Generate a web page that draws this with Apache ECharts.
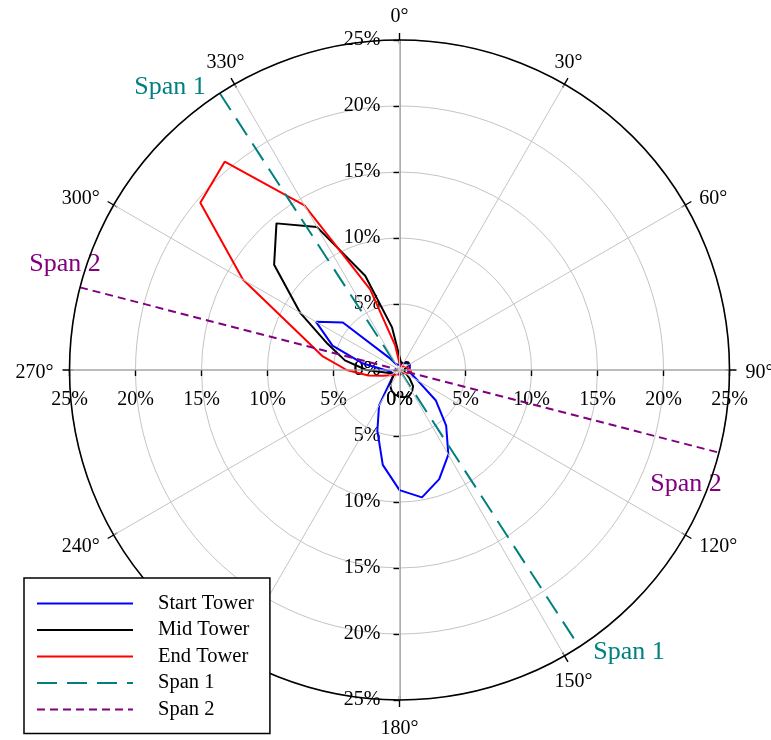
<!DOCTYPE html>
<html>
<head>
<meta charset="utf-8">
<script src="https://cdn.jsdelivr.net/npm/echarts@6/dist/echarts.min.js"></script>
<style>
  html, body { margin: 0; padding: 0; background: #ffffff; }
  #chart { width: 771px; height: 740px; }
</style>
</head>
<body>
<div id="chart"></div>
<script>
// Compass bearing of each rose bin (degrees, clockwise from north)
const directions = [0, 10, 20, 30, 40, 50, 60, 70, 80, 90, 100, 110, 120, 130, 140, 150, 160, 170,
                    180, 190, 200, 210, 220, 230, 240, 250, 260, 270, 280, 290, 300, 310, 320, 330, 340, 350];

// Share of time (%) per direction bin at each tower
const startTower = [0.4, 0.4, 0.5, 0.6, 0.7, 0.8, 0.9, 0.9, 0.8, 0.6, 0.7, 1.0, 1.6, 3.6, 5.5, 7.4, 8.8, 9.8,
                    9.1, 7.3, 4.9, 3.1, 1.0, 0.5, 0.4, 0.5, 0.7, 1.1, 2.8, 5.4, 7.3, 5.6, 1.2, 0.5, 0.4, 0.4];
const midTower   = [1.0, 0.6, 0.5, 0.6, 0.8, 0.9, 0.8, 0.6, 0.4, 0.3, 0.3, 0.4, 0.6, 1.0, 1.6, 1.9, 2.1, 2.1,
                    2.0, 1.9, 1.7, 1.4, 0.9, 0.6, 0.6, 0.7, 1.1, 2.5, 4.2, 5.8, 8.7, 12.4, 14.5, 12.5, 7.6, 3.3];
const endTower   = [0.5, 0.4, 0.3, 0.3, 0.3, 0.4, 0.5, 0.6, 0.7, 0.8, 0.9, 0.7, 0.5, 0.4, 0.3, 0.3, 0.3, 0.3,
                    0.3, 0.3, 0.3, 0.4, 0.5, 0.6, 0.8, 1.3, 2.4, 4.0, 5.9, 8.1, 13.7, 19.7, 20.6, 14.4, 6.5, 1.9];

// Line bearings of the two spans (both ends), drawn across the full radius
const span1Bearings = [327, 147];
const span2Bearings = [284.5, 104.5];

// Radial scale (%)
const radiusTicks = [0, 5, 10, 15, 20, 25];
// Angular scale (degrees)
const angleTicks = [0, 30, 60, 90, 120, 150, 180, 210, 240, 270, 300, 330, 360];

const FONT = 'Liberation Serif';
const CENTER = [399.5, 370];
const RADIUS = 330;
const rMin = radiusTicks[0];
const rMax = radiusTicks[radiusTicks.length - 1];
const rStep = radiusTicks[1] - radiusTicks[0];
const aStep = angleTicks[1] - angleTicks[0];

// Closed polygon in [radius, angle] order for the polar line series
function ring(values) {
  const pts = directions.map((d, i) => [values[i], d]);
  pts.push([values[0], directions[0]]);
  return pts;
}

// A straight span through the pole, with a caption at each end
function spanData(bearings, text, color, labels) {
  const base = { show: true, formatter: text, color: color, fontFamily: FONT, fontSize: 26 };
  return [
    { value: [rMax, bearings[0]], label: Object.assign({}, base, labels[0]) },
    { value: [0, 0] },
    { value: [rMax, bearings[1]], label: Object.assign({}, base, labels[1]) }
  ];
}

// Rich styles nudging diagonal angle labels so they sit centred on their spoke
const angleRich = {
  toL: { fontFamily: FONT, fontSize: 20, color: '#000', padding: [0, 0, 0, -18] },
  toR: { fontFamily: FONT, fontSize: 20, color: '#000', padding: [0, -18, 0, 0] },
  dn:  { fontFamily: FONT, fontSize: 20, color: '#000', padding: [0, 0, -9, 0] },
  up:  { fontFamily: FONT, fontSize: 20, color: '#000', padding: [-9, 0, 0, 0] }
};
function angleLabel(v) {
  const s = v + '°';
  if (v === 30 || v === 150) return '{toL|' + s + '}';
  if (v === 210 || v === 330) return '{toR|' + s + '}';
  if (v === 60 || v === 300) return '{dn|' + s + '}';
  if (v === 120 || v === 240) return '{up|' + s + '}';
  return s;
}

const gridGray = '#c4c4c4';
const axisGray = '#9a9a9a';

function radiusAxis(idx, tickLen, label) {
  return {
    polarIndex: idx,
    type: 'value',
    min: rMin, max: rMax, interval: rStep,
    axisLine: { show: true, lineStyle: { color: axisGray, width: 1.6 } },
    axisTick: { show: true, length: tickLen, lineStyle: { color: '#000', width: 1.4 } },
    axisLabel: Object.assign({
      show: true, formatter: '{value}%', color: '#000', fontFamily: FONT, fontSize: 20
    }, label),
    splitLine: { show: idx === 0, lineStyle: { color: gridGray, width: 1 } },
    z: 2
  };
}

const option = {
  animation: false,
  backgroundColor: '#ffffff',
  polar: [
    { center: CENTER, radius: RADIUS },
    { center: CENTER, radius: RADIUS },
    { center: CENTER, radius: RADIUS },
    { center: CENTER, radius: RADIUS }
  ],
  angleAxis: [
    {
      polarIndex: 0, type: 'value', min: angleTicks[0], max: angleTicks[angleTicks.length - 1], interval: aStep,
      startAngle: 90, clockwise: true, z: 5,
      axisLine: { show: true, lineStyle: { color: '#000', width: 1.6 } },
      axisTick: { show: true, length: 7, lineStyle: { color: '#000', width: 1.4 } },
      axisLabel: {
        show: true, margin: 16, formatter: angleLabel, color: '#000', fontFamily: FONT, fontSize: 20,
        padding: [2.5, 0, -2.5, 0], rich: angleRich
      },
      splitLine: { show: true, lineStyle: { color: gridGray, width: 1 } }
    },
    {
      polarIndex: 1, type: 'value', min: angleTicks[0], max: angleTicks[angleTicks.length - 1], interval: aStep,
      startAngle: 270, clockwise: true,
      axisLine: { show: false },
      axisTick: { show: true, inside: true, length: 4, lineStyle: { color: '#000', width: 1.4 } },
      axisLabel: { show: false },
      splitLine: { show: false }
    },
    { polarIndex: 2, type: 'value', min: 0, max: 360, startAngle: 0, show: false },
    { polarIndex: 3, type: 'value', min: 0, max: 360, startAngle: 180, show: false }
  ],
  radiusAxis: [
    radiusAxis(0, 6, { margin: 19 }),
    radiusAxis(1, -6, { margin: -19, align: 'right', verticalAlign: 'middle' }),
    radiusAxis(2, -6, { margin: -20, align: 'center', verticalAlign: 'top' }),
    radiusAxis(3, 6, { margin: 20 })
  ],
  legend: {
    orient: 'vertical',
    left: 24, top: 578,
    data: ['Start Tower', 'Mid Tower', 'End Tower', 'Span 1', 'Span 2'],
    itemWidth: 96, itemHeight: 14, itemGap: 4.5,
    padding: [14.5, 16, 13, 12],
    backgroundColor: '#ffffff',
    borderColor: '#000', borderWidth: 1.5, borderRadius: 0,
    itemStyle: { opacity: 0 },
    textStyle: { fontFamily: FONT, fontSize: 20.5, color: '#000', lineHeight: 22, padding: [0, 0, 0, 20] },
    selectedMode: false,
    z: 20
  },
  series: [
    {
      name: 'Start Tower', type: 'line', coordinateSystem: 'polar', polarIndex: 0,
      data: ring(startTower), symbol: 'none', silent: true, z: 3,
      lineStyle: { color: '#0000ff', width: 2 }, itemStyle: { color: '#0000ff' }
    },
    {
      name: 'Mid Tower', type: 'line', coordinateSystem: 'polar', polarIndex: 0,
      data: ring(midTower), symbol: 'none', silent: true, z: 3,
      lineStyle: { color: '#000000', width: 2 }, itemStyle: { color: '#000000' }
    },
    {
      name: 'End Tower', type: 'line', coordinateSystem: 'polar', polarIndex: 0,
      data: ring(endTower), symbol: 'none', silent: true, z: 3,
      lineStyle: { color: '#ff0000', width: 2 }, itemStyle: { color: '#ff0000' }
    },
    {
      name: 'Span 1', type: 'line', coordinateSystem: 'polar', polarIndex: 0,
      symbol: 'circle', symbolSize: 0, showSymbol: true, silent: true, z: 4, clip: false,
      lineStyle: { color: '#008080', width: 2, type: [20, 10] }, itemStyle: { color: '#008080' },
      data: spanData(span1Bearings, 'Span 1', '#008080', [
        { position: 'left', offset: [-9, -6] },
        { position: 'right', offset: [9, 5] }
      ])
    },
    {
      name: 'Span 2', type: 'line', coordinateSystem: 'polar', polarIndex: 0,
      symbol: 'circle', symbolSize: 0, showSymbol: true, silent: true, z: 4, clip: false,
      lineStyle: { color: '#800080', width: 2, type: [8, 5] }, itemStyle: { color: '#800080' },
      data: spanData(span2Bearings, 'Span 2', '#800080', [
        { position: 'top', offset: [-15, -5] },
        { position: 'bottom', offset: [-33, 14] }
      ])
    }
  ]
};

const chart = echarts.init(document.getElementById('chart'), null, { renderer: 'canvas' });
chart.setOption(option);
</script>
</body>
</html>
